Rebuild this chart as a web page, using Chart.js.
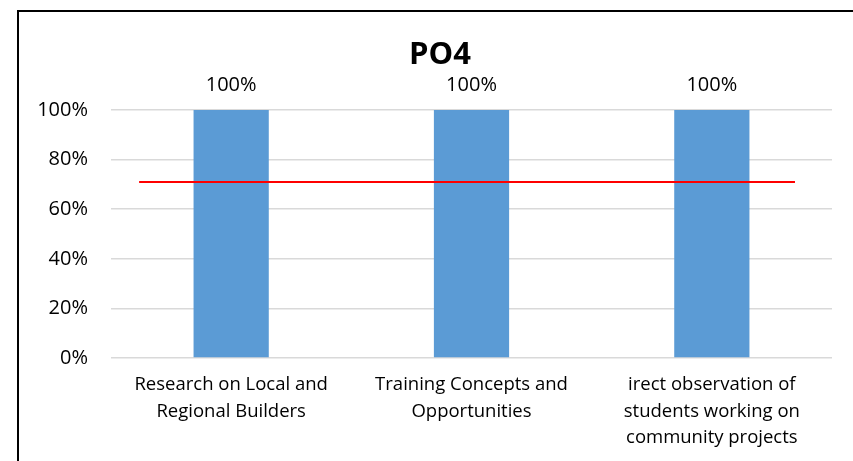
<!DOCTYPE html>
<html>
<head>
<meta charset="utf-8">
<script src="https://cdn.jsdelivr.net/npm/chart.js@4.4.1/dist/chart.umd.min.js"></script>
<style>
  html, body { margin: 0; padding: 0; background: #fff; }
  #wrap { position: relative; width: 853px; height: 461px; overflow: hidden; }
  #frame { position: absolute; left: 17px; top: 10px; width: 900px; height: 500px;
           border-left: 2px solid #000; border-top: 2px solid #000; pointer-events: none; }
  canvas { position: absolute; left: 0; top: 0; }
</style>
</head>
<body>
<div id="wrap">
  <canvas id="c" width="853" height="461"></canvas>
  <div id="frame"></div>
</div>
<script>
// ---- data ----
const chartTitle = "PO4";
const categories = [
  ["Research on Local and", "Regional Builders"],
  ["Training Concepts and", "Opportunities"],
  ["irect observation of", "students working on", "community projects"]
];
const values = [100, 100, 100];
const targetValue = 71;
const yTicks = [0, 20, 40, 60, 80, 100];

// ---- layout constants ----
const TARGET_X_START = -0.383;
const TARGET_X_END = 2.346;
const FONT = "'Open Sans', 'Liberation Sans', sans-serif";

const valueLabels = {
  id: 'valueLabels',
  afterDatasetsDraw(chart) {
    const ctx = chart.ctx;
    const meta = chart.getDatasetMeta(0);
    ctx.save();
    ctx.font = "20px " + FONT;
    ctx.fillStyle = "#000";
    ctx.textAlign = "center";
    ctx.textBaseline = "middle";
    meta.data.forEach((bar, i) => {
      ctx.fillText(values[i] + "%", bar.x, bar.y - 25);
    });
    ctx.restore();
  }
};

const chartTitlePlugin = {
  id: 'chartTitlePlugin',
  afterDraw(chart) {
    const ctx = chart.ctx;
    ctx.save();
    ctx.font = "bold 31px " + FONT;
    ctx.fillStyle = "#000";
    ctx.textAlign = "center";
    ctx.textBaseline = "middle";
    ctx.fillText(chartTitle, 440, 55);
    ctx.restore();
  }
};

new Chart(document.getElementById('c'), {
  data: {
    labels: categories,
    datasets: [
      {
        type: 'bar',
        data: values,
        backgroundColor: '#5b9bd5',
        borderWidth: 0,
        grouped: false,
        barPercentage: 0.313,
        categoryPercentage: 1,
        xAxisID: 'x',
        order: 2
      },
      {
        type: 'line',
        data: [{x: TARGET_X_START, y: targetValue}, {x: TARGET_X_END, y: targetValue}],
        borderColor: '#ff0000',
        borderWidth: 2,
        pointRadius: 0,
        fill: false,
        xAxisID: 'x2',
        order: 1
      }
    ]
  },
  options: {
    responsive: false,
    animation: false,
    layout: { padding: { left: 0, right: 21, top: 110, bottom: 0 } },
    plugins: {
      legend: { display: false },
      tooltip: { enabled: false },
      title: { display: false }
    },
    scales: {
      x: {
        type: 'category',
        grid: { display: false, drawTicks: false },
        border: { display: false },
        ticks: {
          color: '#000',
          font: { family: FONT, size: 18.5, lineHeight: 1.42 },
          padding: 14,
          maxRotation: 0,
          autoSkip: false
        },
        afterFit(scale) { scale.height = 103; }
      },
      x2: {
        type: 'linear',
        display: false,
        min: -0.5,
        max: 2.5
      },
      y: {
        min: 0,
        max: 100,
        afterBuildTicks(scale) { scale.ticks = yTicks.map(v => ({ value: v })); },
        grid: { color: '#d9d9d9', lineWidth: 1.5, drawTicks: false },
        border: { display: false },
        ticks: {
          color: '#000',
          font: { family: FONT, size: 20 },
          padding: 23,
          callback: v => v + '%'
        },
        afterFit(scale) { scale.width = 111; }
      }
    }
  },
  plugins: [valueLabels, chartTitlePlugin]
});
</script>
</body>
</html>
